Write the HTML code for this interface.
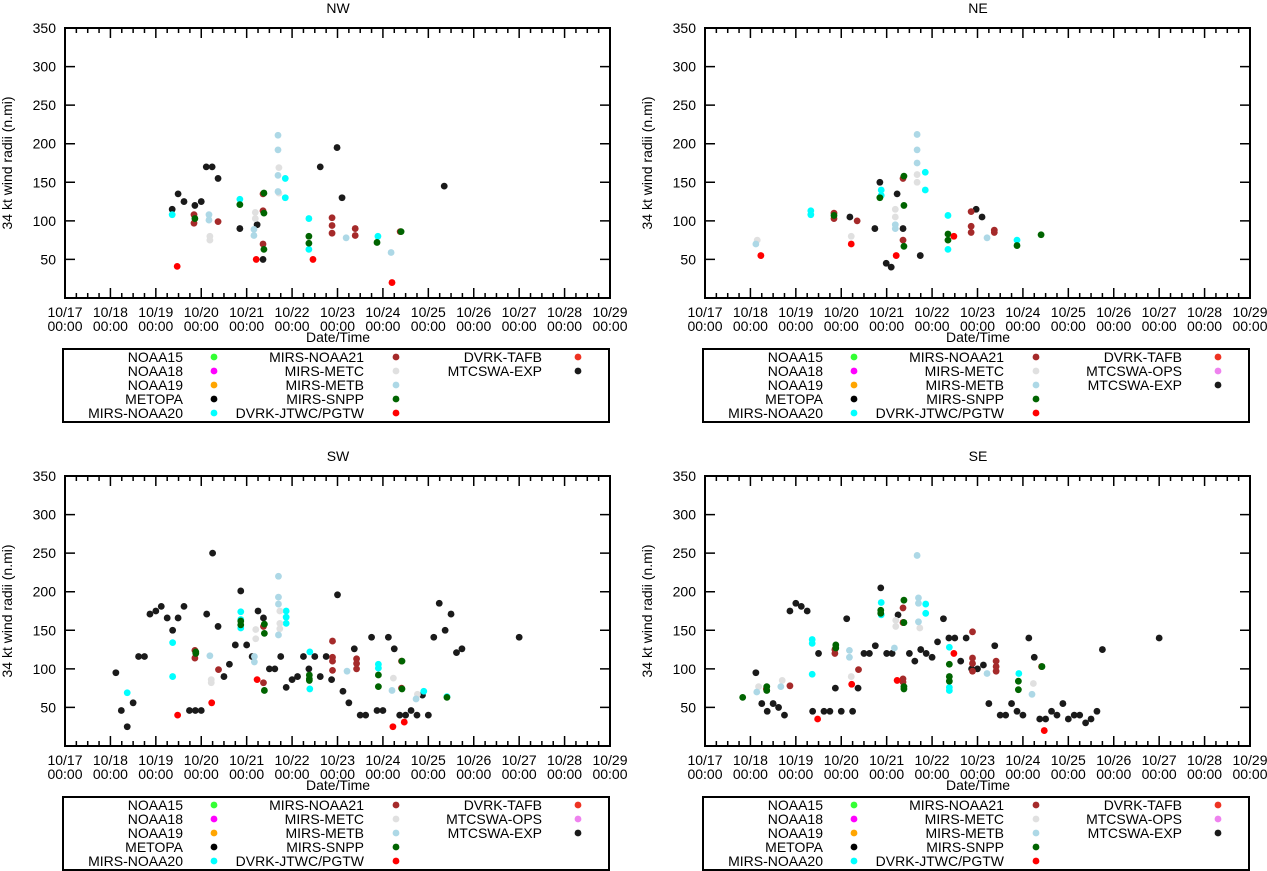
<!DOCTYPE html>
<html><head><meta charset="utf-8"><style>
body{margin:0;background:#fff;}
svg{display:block;font-family:"Liberation Sans",sans-serif;}
</style></head><body>
<svg id="chart" width="1267" height="871" viewBox="0 0 1267 871" xmlns="http://www.w3.org/2000/svg"></svg>
<script>
// ---------- data ----------
const dateTicks = ["10/17","10/18","10/19","10/20","10/21","10/22","10/23","10/24","10/25","10/26","10/27","10/28","10/29"];
const valueTicks = [50,100,150,200,250,300,350];

const nwDays = [2.36,2.49,2.62,2.86,3.0,3.11,3.24,3.37,3.85,4.23,4.36,5.62,5.99,6.10,8.35,
 2.36,3.85,4.85,4.85,5.37,5.37,6.89,
 2.84,2.84,3.37,4.36,4.36,4.36,5.88,5.88,5.88,6.39,6.39,7.38,
 2.86,3.85,4.38,4.38,4.38,5.37,5.37,6.87,7.4,
 3.19,3.19,4.19,4.19,4.71,4.71,
 3.17,3.17,4.16,4.16,4.69,4.69,4.69,4.69,6.19,7.18,
 2.47,4.21,5.46,7.2];
const nwVals = [115,135,125,120,125,170,170,155,90,95,50,170,195,130,145,
 108,128,155,130,103,63,80,
 108,97,99,135,113,70,104,94,84,90,81,86,
 103,121,136,110,63,80,71,72,86,
 80,75,111,103,169,136,
 108,101,89,81,211,192,159,138,78,59,
 41,50,50,20];
const nwSer = "KKKKKKKKKKKKKKK"+"CCCCCCC"+"BBBBBBBBBBBB"+"DDDDDDDDD"+"GGGGGG"+"LLLLLLLLLL"+"RRRR";

const neDays = [3.19,3.74,3.85,3.99,4.10,4.23,4.36,4.74,5.97,6.10,
 2.33,2.33,3.88,3.88,4.85,4.85,5.35,5.35,6.87,
 2.84,2.84,3.35,4.36,4.36,5.86,5.86,5.86,6.37,6.37,
 2.84,3.85,4.38,4.38,4.38,5.35,5.35,6.87,7.40,
 1.15,3.22,4.19,4.19,4.67,4.67,
 1.12,4.19,4.19,4.67,4.67,4.67,6.21,
 1.23,3.22,4.21,5.48];
const neVals = [105,90,150,45,40,135,90,55,115,105,
 113,108,140,133,163,140,107,63,75,
 110,103,100,155,75,112,93,85,88,85,
 107,130,158,120,67,83,75,68,82,
 75,80,115,105,160,150,
 70,95,90,212,192,175,78,
 55,70,55,80];
const neSer = "KKKKKKKKKK"+"CCCCCCCCC"+"BBBBBBBBBB"+"DDDDDDDDD"+"GGGGGG"+"LLLLLLL"+"RRRR";

const swDays = [1.12,1.24,1.37,1.5,1.62,1.75,1.87,2.0,2.12,2.25,2.37,2.49,2.62,2.74,2.87,3.0,3.12,3.25,3.37,3.5,3.62,3.75,3.87,4.0,4.12,4.25,4.37,4.5,4.62,4.75,4.87,5.0,5.12,5.25,5.37,5.5,5.62,5.75,5.87,6.0,6.12,6.25,6.37,6.5,6.62,6.75,6.87,7.0,7.12,7.25,7.37,7.5,7.62,7.75,7.87,8.0,8.12,8.24,8.37,8.5,8.62,8.74,10.0,
 1.37,2.37,2.37,3.87,3.87,3.87,4.87,4.87,4.87,5.39,5.39,6.9,6.9,7.9,8.41,
 2.86,2.86,3.38,4.37,4.37,5.89,5.89,5.89,5.89,6.42,6.42,6.42,7.41,7.41,
 2.88,2.88,3.87,3.87,4.39,4.39,4.39,5.38,5.38,5.38,6.9,6.9,7.42,7.42,8.41,
 3.22,3.22,4.2,4.2,4.73,4.73,4.73,7.23,7.76,
 3.19,4.17,4.17,4.7,4.7,4.7,4.7,6.21,7.2,7.73,
 2.48,3.23,4.23,7.22,7.47];
const swVals = [95,46,25,56,116,116,171,175,181,166,150,166,181,46,46,46,171,250,155,90,106,131,201,131,116,175,166,100,100,116,76,86,90,116,100,116,90,116,86,196,71,56,126,40,40,141,46,46,141,126,40,40,46,40,66,40,141,185,150,171,121,126,141,
 69,134,90,174,164,153,175,167,159,122,74,106,101,71,64,
 124,114,99,155,82,136,115,110,98,113,107,100,110,75,
 122,120,162,157,158,146,72,92,87,85,92,77,110,74,63,
 86,82,151,139,175,159,152,88,67,
 117,116,109,220,193,184,144,97,72,61,
 40,56,86,25,31];
const swSer = "K".repeat(63)+"C".repeat(15)+"B".repeat(14)+"D".repeat(15)+"G".repeat(9)+"L".repeat(10)+"RRRRR";

const seDays = [1.12,1.25,1.37,1.5,1.62,1.75,1.87,2.0,2.12,2.25,2.37,2.5,2.62,2.75,2.87,3.0,3.12,3.25,3.37,3.5,3.62,3.75,3.87,4.0,4.12,4.25,4.37,4.5,4.62,4.75,4.87,5.0,5.12,5.25,5.37,5.5,5.63,5.75,5.87,6.0,6.13,6.25,6.38,6.5,6.62,6.75,6.87,7.0,7.13,7.25,7.37,7.5,7.63,7.75,7.88,8.0,8.13,8.25,8.38,8.5,8.63,8.75,10.0,
 2.36,2.36,2.36,3.88,3.88,4.86,4.86,5.38,5.38,5.38,6.91,
 1.35,1.87,2.86,2.86,3.38,4.36,4.36,4.36,4.36,5.89,5.89,5.89,5.89,6.41,6.41,6.41,7.41,
 0.83,1.36,1.36,2.88,2.88,3.87,3.87,4.38,4.38,4.38,4.38,5.38,5.38,5.38,6.9,6.9,7.42,
 1.18,1.7,3.22,4.2,4.2,4.73,7.23,
 1.14,1.67,3.18,3.18,4.17,4.7,4.7,4.7,4.67,6.21,7.2,
 2.48,3.23,4.23,5.48,7.47];
const seVals = [95,55,45,55,50,40,175,185,181,175,45,120,45,45,75,45,165,45,75,120,120,130,205,120,120,170,160,120,110,125,120,115,135,165,140,140,110,140,100,100,105,55,130,40,40,55,45,40,140,115,35,35,45,40,55,35,40,40,30,35,45,125,140,
 138,133,93,186,170,184,172,128,76,72,94,
 74,78,125,120,99,179,160,87,83,148,114,107,97,110,103,97,103,
 63,77,72,131,127,176,172,189,160,77,74,106,90,84,84,73,103,
 77,85,90,163,155,153,81,
 70,77,124,115,127,192,185,161,247,94,67,
 35,80,85,120,20];
const seSer = "K".repeat(63)+"C".repeat(11)+"B".repeat(17)+"D".repeat(17)+"G".repeat(7)+"L".repeat(11)+"RRRRR";

const colors = {K:"#1a1a1a",C:"#00ffff",B:"#a52a2a",D:"#006400",G:"#e0e0e0",L:"#add8e6",R:"#ff0000"};

// ---------- drawing ----------
const NS = "http://www.w3.org/2000/svg";
const svg = document.getElementById("chart");
const FS = 14;
function mk(tag, attrs, parent, text){
  const e = document.createElementNS(NS, tag);
  for (const k in attrs) e.setAttribute(k, attrs[k]);
  if (text !== undefined) e.textContent = text;
  (parent || svg).appendChild(e);
  return e;
}
const L0 = 65, R0 = 610, T0 = 28, B0 = 298;
function xs(ox, d){ return ox + L0 + d * (R0 - L0) / 12; }
function ys(oy, v){ return oy + B0 - v * (B0 - T0) / 350; }

function panel(name, ox, oy, days, vals, ser, legendCol3){
  const g = mk("g", {});
  
  
  const t = mk("text", {x: ox + 338, y: oy + 13, "text-anchor": "middle", "font-size": FS}, g, name);
  
  
  const yt = mk("text", {x: 0, y: 0, "text-anchor": "middle", "font-size": FS, transform: `translate(${ox+12},${oy+163}) rotate(-90)`}, g, "34 kt wind radii (n.mi)");
  
  
  const xt = mk("text", {x: ox + 338, y: oy + 342, "text-anchor": "middle", "font-size": FS}, g, "Date/Time");
  
  
  let path = "";
  for (let i = 0; i <= 12; i++){
    const x = xs(ox, i);
    path += `M${x},${oy+B0}v-10M${x},${oy+T0}v10`;
    if (i < 12) for (let k = 1; k < 4; k++){
      const xm = xs(ox, i + k/4);
      path += `M${xm},${oy+B0}v-5M${xm},${oy+T0}v5`;
    }
    const l1 = mk("text", {x: x, y: oy + 317, "text-anchor": "middle", "font-size": FS}, g, dateTicks[i]);
    
    
    const l2 = mk("text", {x: x, y: oy + 331, "text-anchor": "middle", "font-size": FS}, g, "00:00");
    
    
  }
  valueTicks.forEach(v => {
    const y = ys(oy, v);
    path += `M${ox+L0},${y}h10M${ox+R0},${y}h-10`;
    const l = mk("text", {x: ox + 56, y: y + 5, "text-anchor": "end", "font-size": FS}, g, String(v));
    
    
  });
  const tk = mk("path", {d: path, stroke: "#000", "stroke-width": 1.5, fill: "none"}, g);
  
  
  const bx = mk("rect", {x: ox+L0, y: oy+T0, width: R0-L0, height: B0-T0, fill: "none", stroke: "#000", "stroke-width": 2}, g);
  
  
  for (let i = 0; i < days.length; i++){
    const c = mk("circle", {cx: xs(ox, days[i]), cy: ys(oy, vals[i]), r: 3.4, fill: colors[ser[i]]}, g);
    
    
  }
  const lg = mk("g", {}, g);
  
  
  const lb = mk("rect", {x: ox+63, y: oy+349, width: 546, height: 73, fill: "none", stroke: "#000", "stroke-width": 2}, lg);
  
  
  const cols = [
    [["NOAA15","#33ff33"],["NOAA18","#ff00ff"],["NOAA19","#ffa500"],["METOPA","#000"],["MIRS-NOAA20","#00ffff"]],
    [["MIRS-NOAA21","#a52a2a"],["MIRS-METC","#e0e0e0"],["MIRS-METB","#add8e6"],["MIRS-SNPP","#006400"],["DVRK-JTWC/PGTW","#ff0000"]],
    legendCol3
  ];
  const tx = [183, 364, 542], dx = [214, 396, 578];
  cols.forEach((col, ci) => col.forEach((e, ri) => {
    const y = oy + 357 + ri * 14;
    const et = mk("text", {x: ox + tx[ci], y: y + 5, "text-anchor": "end", "font-size": FS}, lg, e[0]);
    
    
    const ed = mk("circle", {cx: ox + dx[ci], cy: y, r: 3.4, fill: e[1]}, lg);
    
    
  }));
}
const col3a = [["DVRK-TAFB","#ee3322"],["MTCSWA-EXP","#1a1a1a"]];
const col3b = [["DVRK-TAFB","#ee3322"],["MTCSWA-OPS","#ee82ee"],["MTCSWA-EXP","#1a1a1a"]];
panel("NW", 0, 0, nwDays, nwVals, nwSer, col3a);
panel("NE", 640, 0, neDays, neVals, neSer, col3b);
panel("SW", 0, 448, swDays, swVals, swSer, col3b);
panel("SE", 640, 448, seDays, seVals, seSer, col3b);
</script>
</body></html>
